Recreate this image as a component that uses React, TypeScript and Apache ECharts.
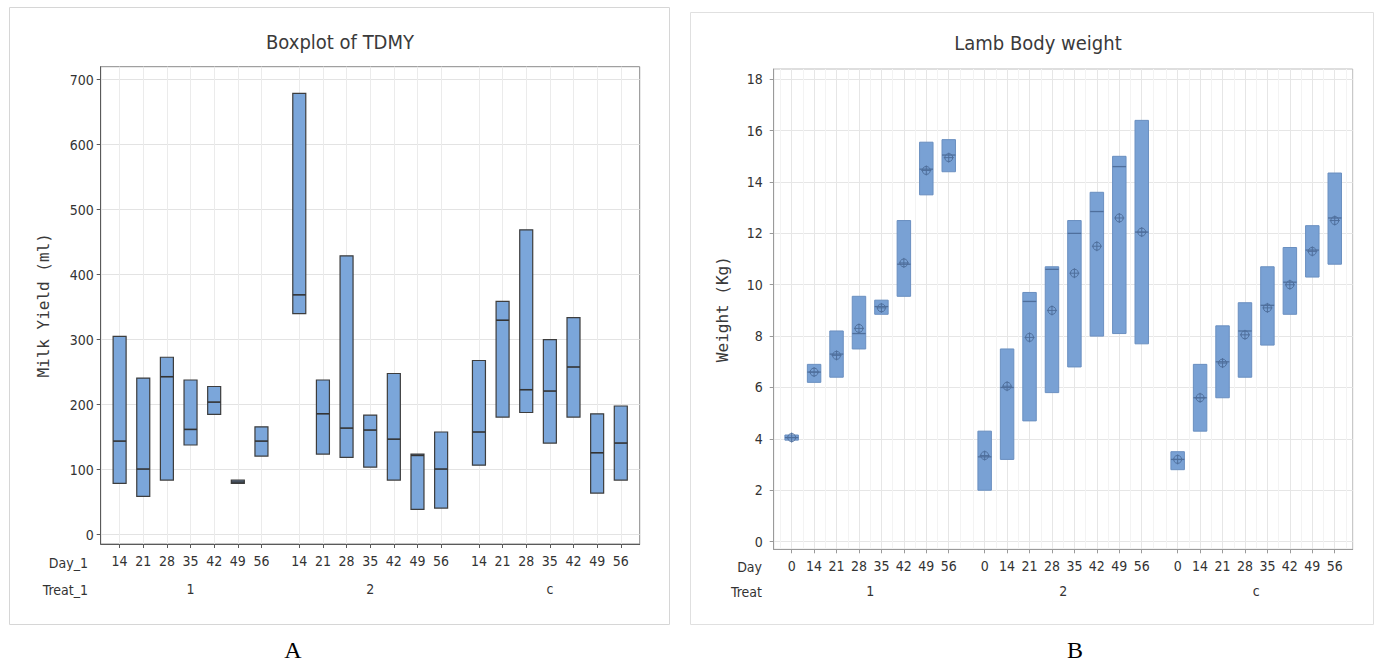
import React, { useEffect, useRef } from "react";
import * as echarts from "echarts";

// ---------- data ----------
const treats = ["1", "2", "c"];
const daysA = ["14", "21", "28", "35", "42", "49", "56"];
const daysB = ["0", "14", "21", "28", "35", "42", "49", "56"];

// Chart A: Boxplot of TDMY (Q1, median, Q3), order: treat 1, treat 2, treat c
const tdmyQ1 = [79, 59, 84, 138, 185, 79, 121, 340, 124, 119, 104, 84, 39, 41, 107, 181, 188, 141, 181, 64, 84];
const tdmyMedian = [144, 101, 243, 162, 204, 81, 144, 369, 186, 164, 161, 147, 122, 101, 158, 330, 223, 221, 258, 126, 141];
const tdmyQ3 = [305, 241, 273, 238, 228, 84, 166, 679, 238, 429, 184, 248, 124, 158, 268, 359, 469, 300, 334, 186, 198];
const yTicksA = [0, 100, 200, 300, 400, 500, 600, 700];

// Chart B: Lamb body weight (Q1, median, Q3, mean)
const weightQ1 = [3.95, 6.2, 6.4, 7.5, 8.85, 9.55, 13.5, 14.4, 2.0, 3.2, 4.7, 5.8, 6.8, 8.0, 8.1, 7.7, 2.8, 4.3, 5.6, 6.4, 7.65, 8.85, 10.3, 10.8];
const weightMedian = [4.05, 6.6, 7.3, 8.1, 9.15, 10.8, 14.5, 15.05, 3.3, 6.0, 9.35, 10.6, 12.0, 12.85, 14.6, 12.05, 3.2, 5.6, 7.0, 8.2, 9.2, 10.1, 11.35, 12.6];
const weightQ3 = [4.15, 6.9, 8.2, 9.55, 9.4, 12.5, 15.55, 15.65, 4.3, 7.5, 9.7, 10.7, 12.5, 13.6, 15.0, 16.4, 3.5, 6.9, 8.4, 9.3, 10.7, 11.45, 12.3, 14.35];
const weightMean = [4.05, 6.6, 7.25, 8.3, 9.1, 10.85, 14.45, 14.95, 3.35, 6.05, 7.95, 9.0, 10.45, 11.5, 12.6, 12.05, 3.2, 5.6, 6.95, 8.05, 9.1, 10.0, 11.3, 12.5];
const yTicksB = [0, 2, 4, 6, 8, 10, 12, 14, 16, 18];

// ---------- layout helpers ----------
const GAP = 1.6; // extra slot spacing between treatment groups
const EDGE = 0.8;
const positionsFor = (n: number) =>
  treats.flatMap((_, t) => Array.from({ length: n }, (_, d) => t * (n - 1 + GAP) + d));
const centersFor = (n: number) => treats.map((_, t) => t * (n - 1 + GAP) + (n - 1) / 2);
const maxFor = (n: number) => (treats.length - 1) * (n - 1 + GAP) + (n - 1) + EDGE;
const minorFor = (n: number) =>
  treats.flatMap((_, t) => Array.from({ length: n + 1 }, (_, d) => t * (n - 1 + GAP) + d - 0.5));

const posA = positionsFor(daysA.length);
const posB = positionsFor(daysB.length);
const labelAt = (pos: number[], labels: string[]) => (v: number) => {
  const i = pos.findIndex((p) => Math.abs(p - v) < 1e-6);
  return i >= 0 ? labels[i % labels.length] : "";
};

const NARROW = '"Liberation Sans Narrow", "DejaVu Sans Condensed", "Roboto Condensed", "Open Sans", sans-serif';
const SPACED = '"DejaVu Sans Mono", "Liberation Mono", monospace';
const TXT = "#333333";

export default function App() {
  const ref = useRef<HTMLDivElement>(null);
  useEffect(() => {
    if (!ref.current) return;
    const chart = echarts.init(ref.current, undefined, { renderer: "svg" });

    const dataA = posA.map((p, i) => [p, tdmyQ1[i], tdmyMedian[i], tdmyQ3[i]]);
    const dataB = posB.map((p, i) => [p, weightQ1[i], weightMedian[i], weightQ3[i], weightMean[i]]);

    const xCommon = (n: number, gridIndex: number, color: string) => ({
      type: "value",
      gridIndex,
      position: "bottom",
      min: -EDGE,
      max: maxFor(n),
      axisLine: { show: true, onZero: false, lineStyle: { color, width: 1 } },
    });

    const option: any = {
      animation: false,
      backgroundColor: "#ffffff",
      grid: [
        { left: 100.7, top: 66.7, width: 539, height: 477.3, show: true, borderColor: "#8a8a8a", borderWidth: 1 },
        { left: 773.7, top: 69, width: 579, height: 480.3, show: true, borderColor: "#bdbdbd", borderWidth: 1 },
      ],
      xAxis: [
        {
          ...xCommon(daysA.length, 0, "#5a5a5a"),
          axisTick: { show: true, customValues: posA, length: 4, lineStyle: { color: "#5a5a5a" } },
          axisLabel: { customValues: posA, formatter: labelAt(posA, daysA), margin: 10, fontSize: 14, fontFamily: NARROW, color: TXT },
          splitLine: { show: true, lineStyle: { color: "#ebebeb", width: 1 } },
        },
        {
          ...xCommon(daysA.length, 0, "#5a5a5a"),
          axisLine: { show: false },
          axisTick: { show: false, customValues: centersFor(daysA.length) },
          axisLabel: { customValues: centersFor(daysA.length), formatter: labelAt(centersFor(daysA.length), treats), margin: 38, fontSize: 14, fontFamily: NARROW, color: TXT },
          splitLine: { show: false },
        },
        {
          ...xCommon(daysB.length, 1, "#9a9a9a"),
          axisTick: { show: true, customValues: posB, length: 4, lineStyle: { color: "#9a9a9a" } },
          axisLabel: { customValues: posB, formatter: labelAt(posB, daysB), margin: 10, fontSize: 14, fontFamily: NARROW, color: TXT },
          splitLine: { show: true, lineStyle: { color: "#e6e6e6", width: 1 } },
        },
        {
          ...xCommon(daysB.length, 1, "#9a9a9a"),
          axisLine: { show: false },
          axisTick: { show: false, customValues: minorFor(daysB.length) },
          axisLabel: { show: false },
          splitLine: { show: true, lineStyle: { color: "#f3f3f3", width: 1 } },
        },
        {
          ...xCommon(daysB.length, 1, "#9a9a9a"),
          axisLine: { show: false },
          axisTick: { show: false, customValues: centersFor(daysB.length) },
          axisLabel: { customValues: centersFor(daysB.length), formatter: labelAt(centersFor(daysB.length), treats), margin: 35, fontSize: 14, fontFamily: NARROW, color: TXT },
          splitLine: { show: false },
        },
      ],
      yAxis: [
        {
          type: "value",
          gridIndex: 0,
          min: -14.3,
          max: 720,
          name: "Milk Yield (ml)",
          nameLocation: "middle",
          nameRotate: 90,
          nameGap: 49,
          nameTextStyle: { fontFamily: SPACED, fontSize: 16, color: "#3a3a3a" },
          axisLine: { show: true, onZero: false, lineStyle: { color: "#5a5a5a" } },
          axisTick: { show: true, customValues: yTicksA, length: 4, lineStyle: { color: "#5a5a5a" } },
          axisLabel: { customValues: yTicksA, margin: 7, fontSize: 14, fontFamily: NARROW, color: TXT },
          splitLine: { show: true, lineStyle: { color: "#e3e3e3", width: 1 } },
        },
        {
          type: "value",
          gridIndex: 1,
          min: -0.3,
          max: 18.4,
          name: "Weight (Kg)",
          nameLocation: "middle",
          nameRotate: 90,
          nameGap: 43,
          nameTextStyle: { fontFamily: SPACED, fontSize: 16, color: "#3a3a3a" },
          axisLine: { show: true, onZero: false, lineStyle: { color: "#9a9a9a" } },
          axisTick: { show: true, customValues: yTicksB, length: 4, lineStyle: { color: "#9a9a9a" } },
          axisLabel: { customValues: yTicksB, margin: 11, fontSize: 14, fontFamily: NARROW, color: TXT },
          splitLine: { show: true, lineStyle: { color: "#e6e6e6", width: 1 } },
        },
      ],
      series: [
        {
          type: "custom",
          xAxisIndex: 0,
          yAxisIndex: 0,
          data: dataA,
          encode: { x: 0, y: [1, 2, 3] },
          renderItem: (params: any, api: any) => {
            const x = api.value(0);
            const pLo = api.coord([x, api.value(1)]);
            const pMed = api.coord([x, api.value(2)]);
            const pHi = api.coord([x, api.value(3)]);
            const w = api.size([0.55, 0])[0];
            return {
              type: "group",
              children: [
                {
                  type: "rect",
                  shape: { x: pLo[0] - w / 2, y: pHi[1], width: w, height: pLo[1] - pHi[1] },
                  style: { fill: "#7ba6da", stroke: "#3d3d3d", lineWidth: 1.2 },
                },
                {
                  type: "line",
                  shape: { x1: pMed[0] - w / 2, y1: pMed[1], x2: pMed[0] + w / 2, y2: pMed[1] },
                  style: { stroke: "#333333", lineWidth: 1.6 },
                },
              ],
            };
          },
        },
        {
          type: "custom",
          xAxisIndex: 2,
          yAxisIndex: 1,
          data: dataB,
          encode: { x: 0, y: [1, 2, 3, 4] },
          renderItem: (params: any, api: any) => {
            const x = api.value(0);
            const pLo = api.coord([x, api.value(1)]);
            const pMed = api.coord([x, api.value(2)]);
            const pHi = api.coord([x, api.value(3)]);
            const pMean = api.coord([x, api.value(4)]);
            const w = api.size([0.6, 0])[0];
            const r = 4;
            const dark = "#4f6f9c";
            return {
              type: "group",
              children: [
                {
                  type: "rect",
                  shape: { x: pLo[0] - w / 2, y: pHi[1], width: w, height: Math.max(pLo[1] - pHi[1], 1) },
                  style: { fill: "#79a1d4", stroke: "#6a8fc0", lineWidth: 1 },
                },
                {
                  type: "line",
                  shape: { x1: pMed[0] - w / 2, y1: pMed[1], x2: pMed[0] + w / 2, y2: pMed[1] },
                  style: { stroke: dark, lineWidth: 1.3 },
                },
                {
                  type: "circle",
                  shape: { cx: pMean[0], cy: pMean[1], r },
                  style: { fill: "none", stroke: dark, lineWidth: 1 },
                },
                {
                  type: "line",
                  shape: { x1: pMean[0] - r - 1, y1: pMean[1], x2: pMean[0] + r + 1, y2: pMean[1] },
                  style: { stroke: dark, lineWidth: 1 },
                },
                {
                  type: "line",
                  shape: { x1: pMean[0], y1: pMean[1] - r - 1, x2: pMean[0], y2: pMean[1] + r + 1 },
                  style: { stroke: dark, lineWidth: 1 },
                },
              ],
            };
          },
        },
      ],
      graphic: [
        { type: "rect", z: -10, shape: { x: 9.5, y: 7.5, width: 660, height: 617 }, style: { fill: "none", stroke: "#d6d6d6", lineWidth: 1 } },
        { type: "rect", z: -10, shape: { x: 690.5, y: 12.5, width: 683, height: 612 }, style: { fill: "none", stroke: "#e0e0e0", lineWidth: 1 } },
        { type: "text", x: 340, y: 42, style: { text: "Boxplot of TDMY", font: `20px ${NARROW}`, fill: "#3a3a3a", textAlign: "center", textVerticalAlign: "middle" } },
        { type: "text", x: 1038, y: 43, style: { text: "Lamb Body weight", font: `20px ${NARROW}`, fill: "#3a3a3a", textAlign: "center", textVerticalAlign: "middle" } },
        { type: "text", x: 88, y: 563, style: { text: "Day_1", font: `14px ${NARROW}`, fill: TXT, textAlign: "right", textVerticalAlign: "middle" } },
        { type: "text", x: 88, y: 590, style: { text: "Treat_1", font: `14px ${NARROW}`, fill: TXT, textAlign: "right", textVerticalAlign: "middle" } },
        { type: "text", x: 762, y: 567, style: { text: "Day", font: `14px ${NARROW}`, fill: TXT, textAlign: "right", textVerticalAlign: "middle" } },
        { type: "text", x: 762, y: 592, style: { text: "Treat", font: `14px ${NARROW}`, fill: TXT, textAlign: "right", textVerticalAlign: "middle" } },
        { type: "text", x: 293, y: 650, style: { text: "A", font: `24px "Liberation Serif", "DejaVu Serif", serif`, fill: "#000", textAlign: "center", textVerticalAlign: "middle" } },
        { type: "text", x: 1075, y: 650, style: { text: "B", font: `24px "Liberation Serif", "DejaVu Serif", serif`, fill: "#000", textAlign: "center", textVerticalAlign: "middle" } },
      ],
    };
    chart.setOption(option);
    return () => chart.dispose();
  }, []);

  return (
    <div
      ref={ref}
      style={{ position: "absolute", left: 0, top: 0, width: 1386, height: 664, background: "#fff" }}
    />
  );
}
